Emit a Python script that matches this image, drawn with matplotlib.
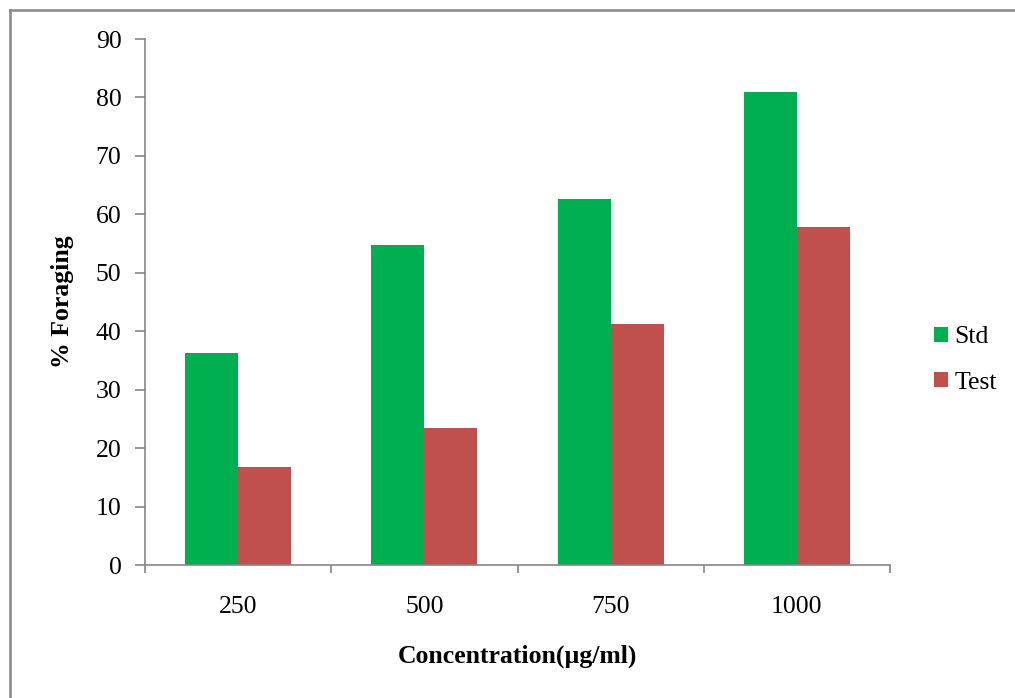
import matplotlib
matplotlib.use("Agg")
import matplotlib.pyplot as plt
import numpy as np
from matplotlib.lines import Line2D
from matplotlib.patches import Patch

categories = ["250", "500", "750", "1000"]
std_values = [36.2, 54.8, 62.6, 80.9]
test_values = [16.8, 23.4, 41.2, 57.8]
series_names = ["Std", "Test"]
y_ticks = [0, 10, 20, 30, 40, 50, 60, 70, 80, 90]

plt.rcParams["font.family"] = ["Liberation Serif", "DejaVu Serif"]

fig = plt.figure(figsize=(10.15, 6.98), dpi=100)
ax = fig.add_axes([145 / 1015, 1 - 565 / 698, 745 / 1015, 526 / 698])

green = "#00B050"
red = "#C0504D"
x = np.arange(len(categories))
w = 0.285
ax.bar(x - w / 2, std_values, w, color=green, label=series_names[0])
ax.bar(x + w / 2, test_values, w, color=red, label=series_names[1])

ax.set_xlim(-0.5, len(categories) - 0.5)
ax.set_ylim(0, 90)
ax.set_yticks(y_ticks)
ax.tick_params(axis="y", labelsize=18.5, color="#868686", length=7, width=1.2, pad=10)
ax.set_xticks(x)
ax.set_xticklabels(categories)
ax.tick_params(axis="x", which="major", length=0, labelsize=18.5, pad=22)
ax.set_xticks(np.arange(len(categories) + 1) - 0.5, minor=True)
ax.tick_params(axis="x", which="minor", length=6, width=1.2, color="#868686")

for side in ["top", "right"]:
    ax.spines[side].set_visible(False)
for side in ["left", "bottom"]:
    ax.spines[side].set_color("#868686")
    ax.spines[side].set_linewidth(1.2)

ax.set_xlabel("Concentration(\u00b5g/ml)", fontsize=18.5, fontweight="bold")
ax.set_ylabel("% Foraging", fontsize=18.5, fontweight="bold")
ax.xaxis.set_label_coords(0.5, -(656 - 565) / 526, transform=ax.transAxes)
ax.xaxis.label.set_va("center")
ax.yaxis.set_label_coords((63 - 145) / 745, 0.5, transform=ax.transAxes)
ax.yaxis.label.set_va("center")

handles = [Patch(facecolor=green), Patch(facecolor=red)]
leg = fig.legend(handles, series_names, loc="center left",
                 bbox_to_anchor=(911 / 1015, 1 - 360 / 698),
                 frameon=False, fontsize=18.5, handlelength=0.55, handleheight=0.55,
                 handletextpad=0.25, labelspacing=0.9)

# outer frame (top and left edges)
fig.add_artist(Line2D([9.5 / 1015, 9.5 / 1015], [0, 1 - 10 / 698],
                      transform=fig.transFigure, color="#868686", lw=1.8))
fig.add_artist(Line2D([9.5 / 1015, 1014 / 1015], [1 - 10 / 698, 1 - 10 / 698],
                      transform=fig.transFigure, color="#868686", lw=1.8))

fig.savefig("out.png", dpi=100)
